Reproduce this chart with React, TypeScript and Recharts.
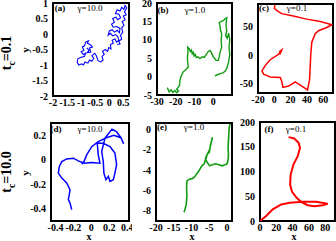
import React from 'react';
import { LineChart, Line, XAxis, YAxis, ReferenceArea } from 'recharts';

// trajectories as [x, y]
const pathA = [
  [-0.8, -0.45], [-0.72, -0.52], [-0.78, -0.6], [-0.66, -0.58], [-0.7, -0.45], [-0.6, -0.42],
  [-0.68, -0.34], [-0.78, -0.3], [-0.74, -0.22], [-0.84, -0.26], [-0.88, -0.38], [-0.96, -0.42],
  [-0.9, -0.52], [-1.0, -0.58], [-0.92, -0.66], [-0.84, -0.62], [-0.88, -0.72], [-1.02, -0.76],
  [-1.12, -0.8], [-1.14, -0.92], [-1.08, -1.0], [-0.98, -0.96], [-0.92, -1.0], [-0.86, -0.9],
  [-0.76, -0.94], [-0.7, -0.84], [-0.62, -0.88], [-0.55, -0.78], [-0.62, -0.7], [-0.52, -0.62],
  [-0.46, -0.7], [-0.4, -0.86], [-0.3, -0.9], [-0.22, -0.84], [-0.26, -0.72], [-0.18, -0.66],
  [-0.24, -0.56], [-0.14, -0.5], [-0.06, -0.56], [-0.02, -0.44], [0.06, -0.48], [0.04, -0.34],
  [0.14, -0.3], [0.1, -0.2], [0.2, -0.16], [0.26, -0.26], [0.34, -0.2], [0.3, -0.08],
  [0.22, -0.02], [0.12, -0.06], [0.04, 0.02], [-0.04, -0.04], [0.0, 0.1], [0.1, 0.14],
  [0.18, 0.06], [0.28, 0.12], [0.36, 0.04], [0.38, 0.18], [0.26, 0.24], [0.14, 0.22],
  [0.08, 0.32], [0.18, 0.38], [0.12, 0.5], [0.24, 0.54], [0.3, 0.46], [0.4, 0.52],
  [0.34, 0.64], [0.22, 0.66], [0.28, 0.78], [0.38, 0.74], [0.44, 0.86], [0.52, 0.8],
  [0.56, 0.92], [0.62, 0.84], [0.54, 0.72], [0.6, 0.62], [0.5, 0.58], [0.56, 0.46],
  [0.46, 0.4], [0.52, 0.28], [0.44, 0.2], [0.48, 0.06], [0.4, -0.04], [0.44, -0.16],
  [0.34, -0.24], [0.38, -0.32], [0.28, -0.34],
];

const pathB = [
  [-24.5, -3.0], [-23.5, -4.2], [-22.5, -3.6], [-21.5, -4.3], [-20.5, -3.8], [-19.5, -4.4],
  [-18.5, -3.9], [-19.5, -3.4], [-18.0, -2.5], [-17.8, -1.0], [-17.0, 0.2], [-16.0, 1.3],
  [-14.8, 1.8], [-13.3, 2.6], [-13.6, 3.8], [-13.8, 4.9], [-13.5, 6.5], [-13.6, 8.0],
  [-12.8, 7.6], [-12.2, 6.8], [-11.6, 7.2], [-11.2, 6.2], [-10.6, 6.6], [-10.2, 5.6],
  [-9.6, 6.0], [-9.0, 5.2], [-8.2, 5.4], [-7.1, 4.9], [-5.8, 5.4], [-4.8, 5.2],
  [-3.5, 6.2], [-2.5, 6.9], [-1.7, 7.1], [-0.8, 6.3], [0.1, 5.3], [1.0, 4.8],
  [1.5, 4.4], [2.7, 4.4], [3.2, 5.4], [3.6, 6.6], [4.5, 8.0], [4.2, 9.8],
  [4.5, 11.6], [3.8, 12.8], [3.6, 13.8], [3.2, 14.7], [4.2, 15.0], [5.4, 15.2],
  [6.4, 15.8], [7.2, 16.0], [6.8, 14.0], [7.2, 12.5], [6.6, 11.2], [7.4, 10.4],
  [8.2, 11.8], [8.8, 10.0], [8.4, 8.0], [8.8, 6.0], [8.2, 4.0], [7.4, 2.5],
  [6.5, 1.6], [5.2, 1.0], [3.6, 0.8], [2.2, 0.5], [0.9, 0.2],
];

const pathC = [
  [0.9, 88], [0, 82.5], [3.7, 77.8], [9.1, 73], [23.3, 69], [39.7, 63.3], [56.3, 59],
  [70.5, 53.4], [64.4, 48.6], [54.2, 42.9], [50, 37.1], [46, 22.5], [44.8, 2.2], [44, -21],
  [43.2, -44.3], [40.7, -61.8], [37.9, -58.9], [31.8, -53], [25.7, -47.3], [17.5, -54.8],
  [10.6, -57.2], [9.3, -47.3], [7.3, -39.7], [-5, -38.6], [-13.1, -33.9], [-15.1, -28.1],
  [-11, -18.2], [-5, -8.3], [3.2, -0.8], [8.1, 5], [9.3, 9.2], [6.5, 6], [7.5, 1],
];

const pathD = [
  [-0.108, -0.036], [-0.082, -0.015], [-0.052, 0.04], [0.004, 0.107], [0.077, 0.148],
  [0.152, 0.175], [0.23, 0.25], [0.28, 0.23], [0.33, 0.18], [0.36, 0.13], [0.33, 0.18],
  [0.25, 0.2], [0.152, 0.175], [0.115, 0.067], [0.133, -0.014], [0.14, -0.109],
  [0.163, -0.163], [0.19, -0.136], [0.208, -0.177], [0.245, -0.163], [0.263, -0.109],
  [0.282, -0.04], [0.263, 0.054], [0.208, 0.107], [0.133, 0.135], [0.066, 0.135],
  [0.077, 0.04], [0.096, -0.028], [0.0, -0.022], [-0.08, -0.028], [-0.146, -0.009],
  [-0.2, 0.013], [-0.275, 0.007], [-0.33, -0.015], [-0.357, -0.055], [-0.368, -0.109],
  [-0.33, -0.15], [-0.275, -0.19], [-0.238, -0.245], [-0.246, -0.285], [-0.257, -0.326],
  [-0.238, -0.353], [-0.219, -0.407],
];

const pathE = [
  [-12.1, -8.15], [-11.8, -7.8], [-11.5, -7.4], [-11.4, -7.0], [-11.3, -6.5], [-11.4, -5.8],
  [-11.3, -5.1], [-10.6, -4.9], [-9.8, -4.85], [-9.2, -4.7], [-8.6, -4.4], [-8.1, -4.2],
  [-7.6, -3.9], [-7.3, -3.7], [-6.8, -3.5], [-6.4, -3.4], [-6.1, -3.0], [-5.9, -2.7],
  [-5.5, -2.4], [-5.0, -2.3], [-4.8, -1.9], [-4.7, -1.6], [-4.4, -1.2], [-4.1, -0.8],
  [-4.5, -1.4], [-4.9, -2.0], [-5.6, -2.5], [-6.0, -3.0], [-5.5, -3.3], [-4.9, -3.6],
  [-4.2, -3.5], [-3.2, -3.4], [-2.3, -3.5], [-1.4, -3.6], [-0.6, -3.5], [0, -3.4],
  [0.3, -3.0], [0.4, -2.5], [0.3, -1.8], [0.4, -1.1], [0.5, -0.5], [0.6, 0.1], [0.8, 0.5],
];

const pathF = [
  [0, 0], [7.5, 10], [15.6, 23.4], [26, 33.5], [36.3, 36.8], [52.6, 38.8], [69, 38.8],
  [83, 34.7], [77, 32], [66.7, 30], [58.5, 32], [50.4, 38.8], [45, 46.8], [39.3, 58.8],
  [36.9, 73.5], [37.6, 93.7], [41, 114], [46.3, 131], [49.1, 147.9], [47.4, 158],
  [42, 166.7], [35.1, 169.4],
];

const ticksAX = [-2, -1.5, -1, -0.5, 0, 0.5];
const ticksAY = [-2, -1.5, -1, -0.5, 0, 0.5, 1];
const ticksBX = [-30, -20, -10, 0];
const ticksBY = [-5, 0, 5, 10, 15, 20];
const ticksCX = [-20, 0, 20, 40, 60];
const ticksCY = [-50, 0, 50];
const ticksDX = [-0.4, -0.2, 0, 0.2, 0.4];
const ticksDY = [-0.4, -0.2, 0, 0.2];
const ticksEX = [-20, -15, -10, -5, 0];
const ticksEY = [-8, -6, -4, -2, 0];
const ticksFX = [0, 20, 40, 60, 80];
const ticksFY = [0, 50, 100, 150, 200];

const BLUE = '#0000ff';
const GREEN = '#129b12';
const RED = '#ff0000';

// box = [left, right, top, bottom] of the framed plot area in page pixels
const panels = [
  { path: pathA, xd: [-2, 0.7], yd: [-2, 1], xt: ticksAX, yt: ticksAY, color: BLUE, box: [53, 129, 3, 96], sw: 1.1 },
  { path: pathB, xd: [-30, 10], yd: [-5, 20], xt: ticksBX, yt: ticksBY, color: GREEN, box: [157, 232, 3, 95], sw: 1.4 },
  { path: pathC, xd: [-20, 72], yd: [-67, 90], xt: ticksCX, yt: ticksCY, color: RED, box: [258, 333, 4, 93], sw: 1.5 },
  { path: pathD, xd: [-0.45, 0.42], yd: [-0.5, 0.3], xt: ticksDX, yt: ticksDY, color: BLUE, box: [51, 129, 123, 221], sw: 1.5 },
  { path: pathE, xd: [-20, 1.4], yd: [-9, 0.6], xt: ticksEX, yt: ticksEY, color: GREEN, box: [156, 232, 123, 221], sw: 1.6 },
  { path: pathF, xd: [0, 92], yd: [0, 200], xt: ticksFX, yt: ticksFY, color: RED, box: [260, 335, 122, 221], sw: 2 },
];

const YW = 30;
const XH = 15;
const MT = 4;
const MR = 3;

const tickStyle = { fontSize: 10, fontFamily: 'Liberation Serif, serif', fontWeight: 700, fill: '#000' };

const Panel = ({ p }: any) => {
  const [l, r, t, b] = p.box;
  const data = p.path.map(([x, y]: number[]) => ({ x, y }));
  return (
    <div style={{ position: 'absolute', left: l - YW, top: t - MT }}>
      <LineChart
        width={YW + (r - l) + MR}
        height={MT + (b - t) + XH}
        data={data}
        margin={{ top: MT, right: MR, bottom: 0, left: 0 }}
      >
        <XAxis
          dataKey="x"
          type="number"
          domain={p.xd}
          ticks={p.xt}
          allowDataOverflow
          interval={0}
          tickLine={false}
          axisLine={false}
          height={XH}
          tickSize={3}
          tickMargin={0}
          tick={tickStyle}
        />
        <YAxis
          dataKey="y"
          type="number"
          domain={p.yd}
          ticks={p.yt}
          allowDataOverflow
          interval={0}
          tickLine={false}
          axisLine={false}
          width={YW}
          tickSize={3}
          tickMargin={2}
          tick={tickStyle}
        />
        <Line
          dataKey="y"
          type="linear"
          stroke={p.color}
          strokeWidth={p.sw}
          dot={false}
          isAnimationActive={false}
        />
        <ReferenceArea
          x1={p.xd[0]}
          x2={p.xd[1]}
          y1={p.yd[0]}
          y2={p.yd[1]}
          fill="none"
          stroke="#000"
          strokeWidth={2}
        />
      </LineChart>
    </div>
  );
};

// centred text, optionally rotated
const Txt = ({ x, y, size = 9, bold = false, rotate = false, children }: any) => (
  <div
    style={{
      position: 'absolute',
      left: x,
      top: y,
      transform: `translate(-50%, -50%)${rotate ? ' rotate(-90deg)' : ''}`,
      fontFamily: 'Liberation Serif, serif',
      fontSize: size,
      fontWeight: bold ? 700 : 400,
      lineHeight: 1,
      whiteSpace: 'nowrap',
      color: '#000',
    }}
  >
    {children}
  </div>
);

const panelTags = [
  { tag: '(a)', g: 'γ=10.0', tx: 60, gx: 90, y: 8 },
  { tag: '(b)', g: 'γ=1.0', tx: 163, gx: 195, y: 10 },
  { tag: '(c)', g: 'γ=0.1', tx: 264, gx: 297, y: 8 },
  { tag: '(d)', g: 'γ=10.0', tx: 56, gx: 90, y: 129 },
  { tag: '(e)', g: 'γ=1.0', tx: 162, gx: 194, y: 127 },
  { tag: '(f)', g: 'γ=0.1', tx: 269, gx: 296, y: 129 },
];

export default function App() {
  return (
    <div style={{ position: 'absolute', left: 0, top: 0, width: 336, height: 241, background: '#fff', overflow: 'hidden' }}>
      {panels.map((p, i) => (
        <Panel key={i} p={p} />
      ))}
      {panelTags.map((t, i) => (
        <React.Fragment key={i}>
          <Txt x={t.tx} y={t.y} bold>{t.tag}</Txt>
          <Txt x={t.gx} y={t.y}>{t.g}</Txt>
        </React.Fragment>
      ))}
      <Txt x={8} y={53} size={14} bold rotate>
        t<sub style={{ fontSize: '70%' }}>c</sub>=0.1
      </Txt>
      <Txt x={8} y={172} size={14} bold rotate>
        t<sub style={{ fontSize: '70%' }}>c</sub>=10.0
      </Txt>
      <Txt x={25} y={50} size={11} bold rotate>y</Txt>
      <Txt x={25} y={173} size={11} bold rotate>y</Txt>
      <Txt x={89} y={237} size={10} bold>x</Txt>
      <Txt x={192} y={237} size={10} bold>x</Txt>
      <Txt x={294} y={237} size={10} bold>x</Txt>
    </div>
  );
}
